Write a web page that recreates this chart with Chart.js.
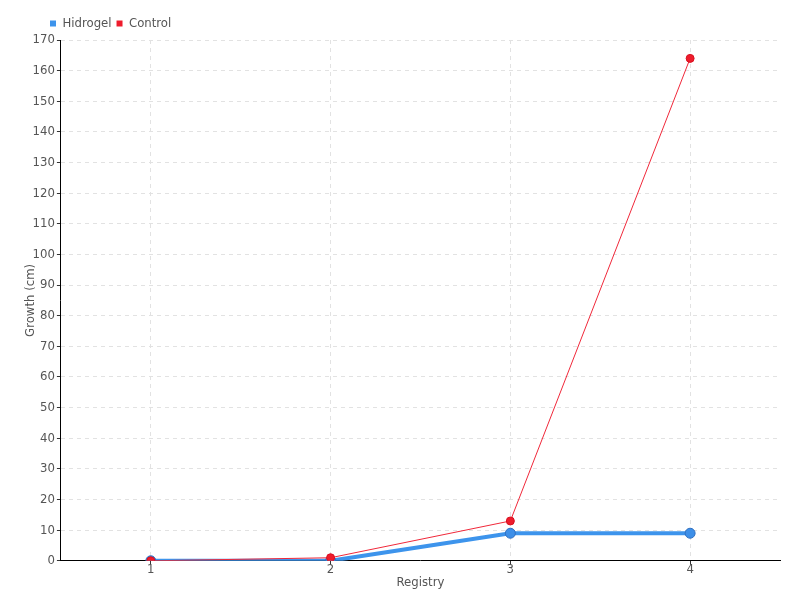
<!DOCTYPE html>
<html>
<head>
<meta charset="utf-8">
<script src="https://cdn.jsdelivr.net/npm/chart.js@4/dist/chart.umd.min.js"></script>
<style>
  html, body { margin: 0; padding: 0; background: #fff; }
  #wrap { width: 800px; height: 600px; }
</style>
</head>
<body>
<div id="wrap"><canvas id="myChart" width="800" height="600"></canvas></div>
<script>
'use strict';
const registry = ['1', '2', '3', '4'];
const hidrogel = [0, 0, 9, 9];
const control = [0, 1, 13, 164];
const yTicks = { min: 0, max: 170, step: 10 };

Chart.defaults.font.family = '"DejaVu Sans Condensed", "Liberation Sans Narrow", sans-serif';
Chart.defaults.font.size = 13;
Chart.defaults.color = '#555';

// push the legend to the right, like the original
const legendShift = {
  id: 'legendShift',
  afterLayout(c) {
    c.legend.left += 24;
  }
};

const ctx = document.getElementById('myChart').getContext('2d');
const chart = new Chart(ctx, {
  type: 'line',
  data: {
    labels: registry,
    datasets: [{
      label: 'Hidrogel',
      data: hidrogel,
      order: 1,
      borderColor: '#3d94ec',
      backgroundColor: '#3d94ec',
      pointBackgroundColor: '#3d8fe8',
      pointBorderColor: '#2f6fc0',
      pointBorderWidth: 1,
      borderWidth: 4,
      pointRadius: 5,
      tension: 0
    },
    {
      label: 'Control',
      data: control,
      order: 0,
      borderColor: '#f0283a',
      backgroundColor: '#ee1c2c',
      pointBackgroundColor: '#ee1c2c',
      pointBorderColor: '#d81020',
      borderWidth: 1,
      pointRadius: 4,
      tension: 0
    }]
  },
  options: {
    responsive: false,
    animation: false,
    layout: { padding: { left: 21, right: 20, top: 12, bottom: 10 } },
    plugins: {
      legend: {
        align: 'start',
        labels: {
          boxWidth: 6,
          boxHeight: 6,
          padding: 5,
          color: '#555',
          generateLabels(c) {
            const items = Chart.defaults.plugins.legend.labels.generateLabels(c);
            items.forEach(it => { it.lineWidth = 0; });
            items.sort((a, b) => a.datasetIndex - b.datasetIndex);
            return items;
          }
        }
      },
      tooltip: { enabled: false }
    },
    scales: {
      x: {
        offset: true,
        title: { display: true, text: 'Registry', padding: 0 },
        grid: {
          offset: false,
          color: '#e2e2e2',
          tickColor: '#333',
          tickLength: 4,
          tickBorderDash: []
        },
        border: { color: '#000', width: 1, dash: [4, 4] },
        ticks: { padding: -3 }
      },
      y: {
        min: yTicks.min,
        max: yTicks.max,
        title: { display: true, text: 'Growth (cm)', padding: 2 },
        grid: {
          color: '#e2e2e2',
          tickColor: '#333',
          tickLength: 4,
          tickBorderDash: []
        },
        border: { color: '#000', width: 1, dash: [4, 4] },
        ticks: { stepSize: yTicks.step, padding: 2 },
        afterFit(scale) {
          scale.width -= 10;
        }
      }
    }
  },
  plugins: [legendShift]
});
</script>
</body>
</html>
